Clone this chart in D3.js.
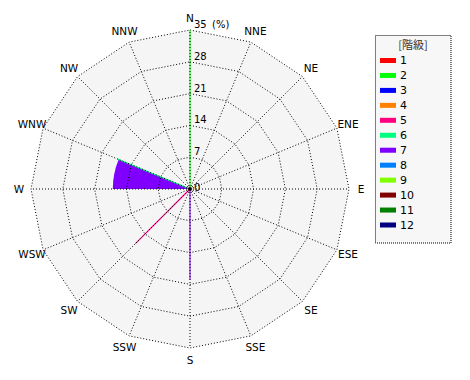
<!DOCTYPE html>
<html><head><meta charset="utf-8">
<script src="https://cdn.jsdelivr.net/npm/d3@7"></script>
<style>body{margin:0;background:#fff}svg{display:block}text{font-family:"DejaVu Sans",sans-serif;font-size:10px;fill:#000}</style>
</head><body>
<svg id="c" width="470" height="380"></svg>
<script>
const directions = ['N','NNE','NE','ENE','E','ESE','SE','SSE','S','SSW','SW','WSW','W','WNW','NW','NNW'];
const classes = ['1','2','3','4','5','6','7','8','9','10','11','12'];
const classColors = ['#FF0000','#00FF00','#0000FF','#FF8000','#FF0080','#00FF80','#8000FF','#0080FF','#80FF00','#800000','#008000','#000080'];
const ticks = [7,14,21,28,35];
const tickLabels = ['7','14','21','28','35'];
// sector: class 7 between W and WNW
const sectorClass = ['7'];
const sectorFrom = ['W'];
const sectorTo = ['WNW'];
const sectorValues = [17.0];
// rays along a direction
const rayClass = ['2','6','7','5'];
const rayDir = ['N','WNW','S','SW'];
const rayValues = [35, 17.3, 20, 17];

const svg = d3.select('#c');
const cx = 190, cy = 189, R = 159;
const r = d3.scaleLinear().domain([0,35]).range([0,R]);
const ang = d3.scalePoint().domain(directions.concat(['_'])).range([0, 2*Math.PI]);
const color = d3.scaleOrdinal().domain(classes).range(classColors);
const g = svg.append('g').attr('transform',`translate(${cx},${cy})`);
const pt = (a, rad) => [Math.sin(a)*rad, -Math.cos(a)*rad];
const ringPts = v => directions.map(d => pt(ang(d), r(v)));

g.append('polygon').attr('points', ringPts(35).map(p=>p.join(',')).join(' ')).attr('fill','#F5F5F5');

// sectors
const arc = d3.arc().innerRadius(0);
sectorClass.forEach((c,i)=>{
  g.append('path').attr('d', arc({outerRadius:r(sectorValues[i]), startAngle:ang(sectorFrom[i]), endAngle:ang(sectorTo[i])+(ang(sectorTo[i])<ang(sectorFrom[i])?2*Math.PI:0)}))
   .attr('fill', color(c));
});

// grid rings
ticks.forEach(t=>{
  g.append('polygon').attr('points', ringPts(t).map(p=>p.join(',')).join(' '))
   .attr('fill','none').attr('stroke','#000').attr('stroke-width',1).attr('stroke-dasharray','1,2');
});
// rays
const line = d3.lineRadial();
rayClass.forEach((c,i)=>{
  g.append('path').attr('d', line([[ang(rayDir[i]),0],[ang(rayDir[i]), r(rayValues[i])]]))
   .attr('stroke', color(c)).attr('stroke-width',1.1).attr('fill','none');
});
// spokes
directions.forEach(d=>{
  const p = pt(ang(d), R);
  g.append('line').attr('x1',0).attr('y1',0).attr('x2',p[0]).attr('y2',p[1])
   .attr('stroke','#000').attr('stroke-width',1).attr('stroke-dasharray','1,2');
});
g.append('circle').attr('r',2).attr('fill','#000');

// tick labels
g.append('text').attr('x',4).attr('y',2).text('0');
ticks.forEach((t,i)=>{
  g.append('text').attr('x',4).attr('y',-r(t)-2).text(tickLabels[i]);
});
g.append('text').attr('x',22).attr('y',-r(35)-2).text('(%)');

// direction labels
directions.forEach(d=>{
  const p = pt(ang(d), R+12);
  g.append('text').attr('x',p[0]).attr('y',p[1]).attr('text-anchor','middle').attr('dominant-baseline','central')
   .style('font-size','10.5px').text(d);
});

// legend
const lg = svg.append('g').attr('transform','translate(375,35)');
lg.append('rect').attr('x',0.5).attr('y',0.5).attr('width',75.5).attr('height',207.5)
  .attr('fill','#F7F7F7').attr('stroke','#000').attr('stroke-dasharray','1,1');
lg.append('text').attr('x',38).attr('y',14).attr('text-anchor','middle')
  .style('font-family','"Noto Sans CJK JP"').style('font-size','11px').style('fill','#333').text('[階級]');
const ly = d3.scaleLinear().domain([0,11]).range([25,189.5]);
classes.forEach((c,i)=>{
  lg.append('rect').attr('x',5).attr('y',ly(i)-2).attr('width',16).attr('height',5).attr('fill',color(c));
  lg.append('text').attr('x',25).attr('y',ly(i)+4).style('font-size','11px').text(c);
});
</script></body></html>
